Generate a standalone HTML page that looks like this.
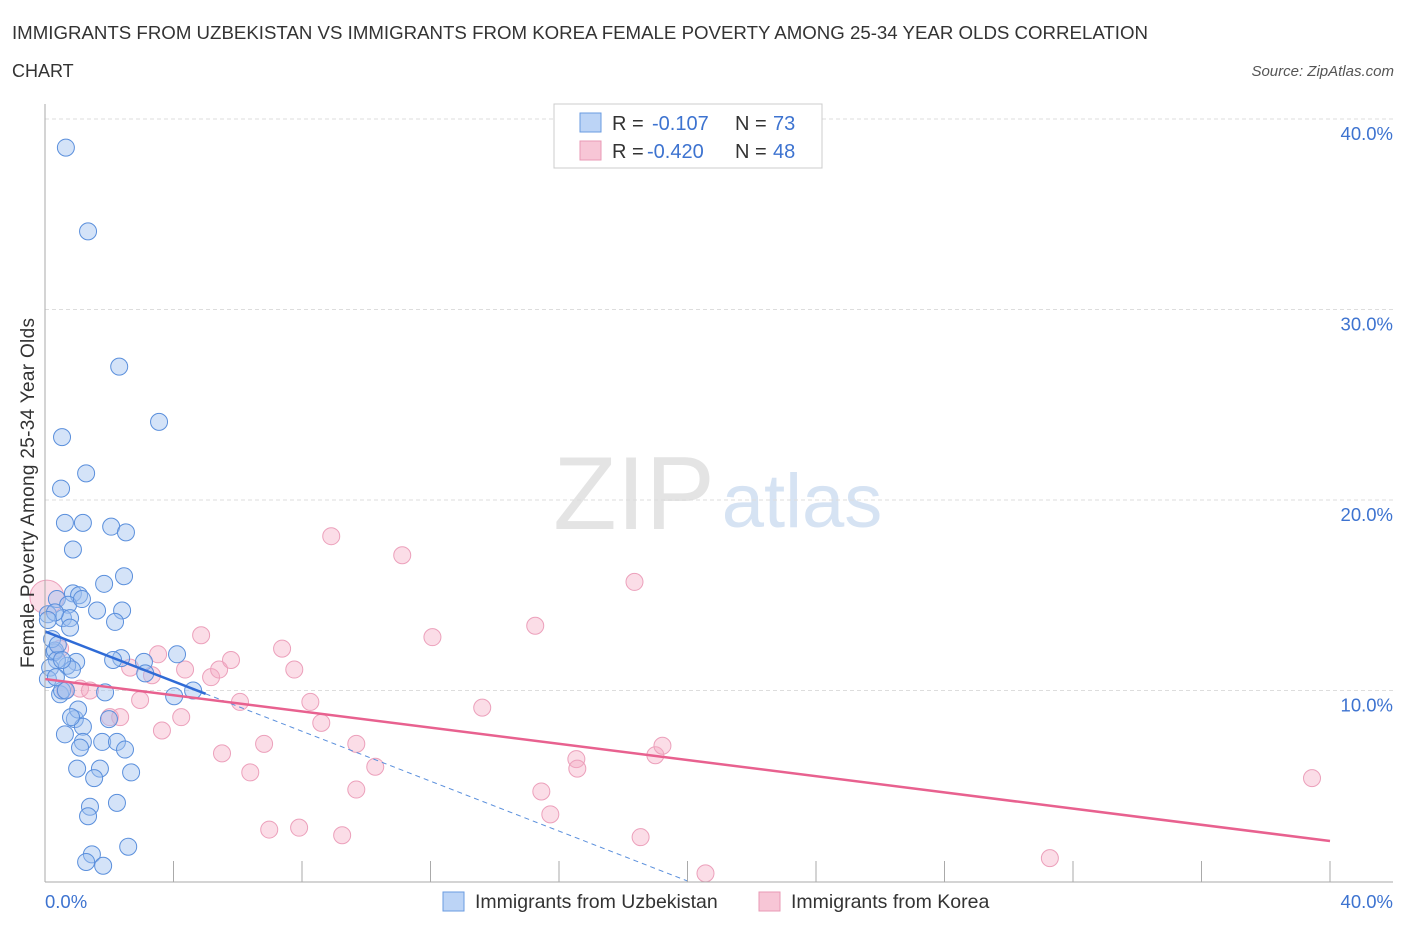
<!DOCTYPE html>
<html><head><meta charset="utf-8"><style>
body{margin:0;background:#fff;font-family:"Liberation Sans",sans-serif;}
svg text{font-family:"Liberation Sans",sans-serif;}
</style></head><body>
<svg id="c" width="1406" height="930" xmlns="http://www.w3.org/2000/svg">
<text x="12" y="39" font-size="18" fill="#333" textLength="1136" lengthAdjust="spacingAndGlyphs">IMMIGRANTS FROM UZBEKISTAN VS IMMIGRANTS FROM KOREA FEMALE POVERTY AMONG 25-34 YEAR OLDS CORRELATION</text>
<text x="12" y="77" font-size="18" fill="#333">CHART</text>
<text x="1394" y="76" font-size="15" font-style="italic" fill="#555" text-anchor="end">Source: ZipAtlas.com</text>
<g>
<text x="634" y="529" font-size="104" font-family="Liberation Serif" fill="#e4e4e4" text-anchor="middle">ZIP</text>
<text x="802" y="527" font-size="76" fill="#d6e3f3" text-anchor="middle">atlas</text>
</g>
<g id="grid"></g><g id="marks"></g><g id="axes"></g>
<text transform="translate(34,493) rotate(-90)" font-size="19" fill="#333" text-anchor="middle" textLength="350">Female Poverty Among 25-34 Year Olds</text>
<g>
<rect x="554" y="104" width="268" height="64" fill="#fff" stroke="#ccc"/>
<rect x="580" y="113" width="21" height="19" fill="#bcd4f6" stroke="#6a9be0"/>
<rect x="580" y="141" width="21" height="19" fill="#f7c6d6" stroke="#e89ab5"/>
<text x="612" y="130" font-size="20" fill="#333">R = <tspan x="652" fill="#3d73d0">-0.107</tspan><tspan x="735">N = </tspan><tspan x="773" fill="#3d73d0">73</tspan></text>
<text x="612" y="158" font-size="20" fill="#333">R = <tspan x="647" fill="#3d73d0">-0.420</tspan><tspan x="735">N = </tspan><tspan x="773" fill="#3d73d0">48</tspan></text>
</g>
<g>
<rect x="443" y="892" width="21" height="19" fill="#bcd4f6" stroke="#6a9be0"/>
<text x="475" y="908" font-size="19.5" fill="#333">Immigrants from Uzbekistan</text>
<rect x="759" y="892" width="21" height="19" fill="#f7c6d6" stroke="#e89ab5"/>
<text x="791" y="908" font-size="19.5" fill="#333">Immigrants from Korea</text>
</g>
</svg>
<script>
const blueX=[0.65,1.34,2.31,3.55,0.53,1.28,0.50,0.62,1.18,2.06,2.52,0.87,2.46,1.84,0.87,1.06,0.37,0.72,1.62,2.40,0.56,0.78,2.18,0.09,0.31,4.11,2.37,3.08,0.97,0.69,0.28,0.31,0.37,0.16,0.84,0.09,3.12,4.02,1.87,0.47,0.53,4.61,0.93,1.03,1.18,0.81,0.62,1.18,1.78,2.24,2.49,1.09,1.00,1.71,2.68,1.53,1.40,2.24,1.34,1.46,1.28,1.81,2.59,0.09,0.22,0.40,0.53,0.78,0.65,0.34,1.15,2.12,1.99];
const blueY=[38.5,34.1,27.0,24.1,23.3,21.4,20.6,18.8,18.8,18.6,18.3,17.4,16.0,15.6,15.1,15.0,14.8,14.5,14.2,14.2,13.8,13.8,13.6,14.0,14.1,11.9,11.7,11.5,11.5,11.3,12.0,12.1,11.6,11.2,11.1,10.6,10.9,9.7,9.9,9.8,10.0,10.0,8.5,9.0,8.1,8.6,7.7,7.3,7.3,7.3,6.9,7.0,5.9,5.9,5.7,5.4,3.9,4.1,3.4,1.4,1.0,0.8,1.8,13.7,12.7,12.4,11.6,13.3,10.0,10.7,14.8,11.6,8.5];
const pinkX=[0.06,0.47,0.62,1.09,1.40,2.02,2.34,2.96,2.65,3.33,3.64,3.52,4.24,4.36,4.86,5.17,5.42,5.79,6.07,5.51,6.39,6.82,6.98,7.38,7.76,7.91,8.26,8.60,8.91,9.25,9.69,9.69,10.28,11.12,12.06,13.61,15.26,15.45,15.73,16.54,16.57,18.35,18.54,19.00,19.22,20.56,31.28,39.44];
const pinkY=[14.9,12.2,10.0,10.1,10.0,8.6,8.6,9.5,11.2,10.8,7.9,11.9,8.6,11.1,12.9,10.7,11.1,11.6,9.4,6.7,5.7,7.2,2.7,12.2,11.1,2.8,9.4,8.3,18.1,2.4,7.2,4.8,6.0,17.1,12.8,9.1,13.4,4.7,3.5,6.4,5.9,15.7,2.3,6.6,7.1,0.4,1.2,5.4];
const blueTrend=[13.1,-0.655]; // intercept, slope
const pinkTrend=[10.6,-0.2125];
const yTicks=[10,20,30,40];
const xTicks=[0,4,8,12,16,20,24,28,32,36,40];
const NS="http://www.w3.org/2000/svg";
const X=v=>45+v*(1285/40), Y=v=>881-v*19.05;
function mk(t,a,p){const e=document.createElementNS(NS,t);for(const k in a)e.setAttribute(k,a[k]);p.appendChild(e);return e;}
const grid=document.getElementById('grid'),marks=document.getElementById('marks'),axes=document.getElementById('axes');
yTicks.forEach(t=>{const l=mk('line',{x1:45,x2:1393,y1:Y(t),y2:Y(t),stroke:'#ddd','stroke-dasharray':'4,3'},grid);


const tx=mk('text',{x:1393,y:Y(t)+21,'font-size':18.5,fill:'#3d73d0','text-anchor':'end'},axes);tx.textContent=t.toFixed(1)+'%';

});
const ax=mk('line',{x1:45,x2:45,y1:104,y2:882,stroke:'#aaa'},axes);


const bx=mk('line',{x1:45,x2:1393,y1:882,y2:882,stroke:'#aaa'},axes);


xTicks.forEach(t=>{const l=mk('line',{x1:X(t),x2:X(t),y1:861,y2:882,stroke:'#aaa'},axes);

});
[[0,'start',45],[40,'end',1393]].forEach(([v,a,px])=>{const tx=mk('text',{x:px,y:908,'font-size':18.5,fill:'#3d73d0','text-anchor':a},axes);tx.textContent=v.toFixed(1)+'%';

});
pinkX.forEach((v,i)=>{const c=mk('circle',{cx:X(v),cy:Y(pinkY[i]),r:i===0?17:8.5,fill:'rgba(244,170,196,0.4)',stroke:'#eca0bb','stroke-width':1},marks);

});
blueX.forEach((v,i)=>{const c=mk('circle',{cx:X(v),cy:Y(blueY[i]),r:8.5,fill:'rgba(160,194,240,0.45)',stroke:'#5a8fdc','stroke-width':1},marks);

});
const bEnd=-blueTrend[0]/blueTrend[1];
const bd=mk('line',{x1:X(5),y1:Y(blueTrend[0]+blueTrend[1]*5),x2:X(bEnd),y2:Y(0),stroke:'#5a8fdc','stroke-width':1,'stroke-dasharray':'5,4'},marks);


const bl=mk('line',{x1:X(0),y1:Y(blueTrend[0]),x2:X(5),y2:Y(blueTrend[0]+blueTrend[1]*5),stroke:'#2f6bd6','stroke-width':2.5},marks);


const pl=mk('line',{x1:X(0),y1:Y(pinkTrend[0]),x2:X(40),y2:Y(pinkTrend[0]+pinkTrend[1]*40),stroke:'#e8618f','stroke-width':2.5},marks);


</script>
</body></html>
